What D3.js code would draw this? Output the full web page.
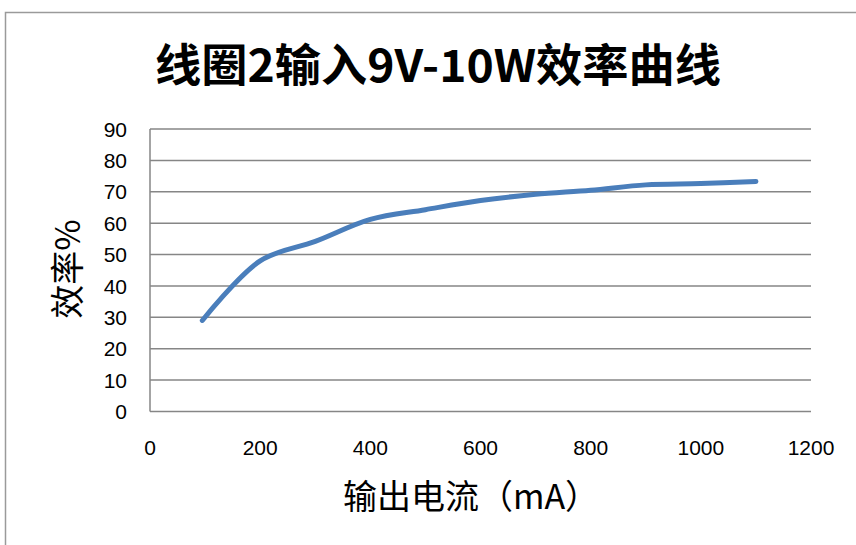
<!DOCTYPE html>
<html><head><meta charset="utf-8">
<script src="https://cdn.jsdelivr.net/npm/d3@7/dist/d3.min.js"></script>
<style>body{margin:0;background:#fff}svg{display:block}</style>
</head><body>
<script>
const currentMA = [95, 200, 300, 400, 500, 600, 700, 800, 900, 1000, 1100];
const efficiency = [29, 48, 54.2, 61.2, 64.3, 67.2, 69.2, 70.5, 72.2, 72.6, 73.3];
const xTicks = [0, 200, 400, 600, 800, 1000, 1200];
const yTicks = [0, 10, 20, 30, 40, 50, 60, 70, 80, 90];
const title = "线圈2输入9V-10W效率曲线";
const xTitle = "输出电流（mA）";
const yTitle = "效率%";

const W = 856, H = 545;
const svg = d3.select("body").append("svg").attr("width", W).attr("height", H);
svg.append("rect").attr("width", W).attr("height", H).attr("fill", "#fff");
// frame
svg.append("path").attr("d", `M5.5,${H}V12.5H${W}`).attr("fill", "none").attr("stroke", "#9a9a9a").attr("stroke-width", 1.5);

const x = d3.scaleLinear().domain([0, 1200]).range([150, 811]);
const y = d3.scaleLinear().domain([0, 90]).range([411.5, 129]);
const font = "'Liberation Sans','Noto Sans CJK SC',sans-serif";

// grid
svg.append("g").selectAll("line").data(yTicks).join("line")
  .attr("x1", x(0)).attr("x2", x(1200)).attr("y1", d => y(d)).attr("y2", d => y(d))
  .attr("stroke", "#868686").attr("stroke-width", 1.5);
svg.append("line").attr("x1", x(0)).attr("x2", x(0)).attr("y1", y(0)).attr("y2", y(90))
  .attr("stroke", "#868686").attr("stroke-width", 1.5);

// y tick labels
svg.append("g").selectAll("text").data(yTicks).join("text")
  .attr("x", 127).attr("y", d => y(d)).attr("dy", "0.36em").attr("text-anchor", "end")
  .attr("font-family", font).attr("font-size", 21).attr("fill", "#000").text(d => d);
// x tick labels
svg.append("g").selectAll("text").data(xTicks).join("text")
  .attr("x", d => x(d)).attr("y", 455).attr("text-anchor", "middle")
  .attr("font-family", font).attr("font-size", 21).attr("fill", "#000").text(d => d);

// line
const pts = currentMA.map((c, i) => [c, efficiency[i]]);
svg.append("path").datum(pts)
  .attr("d", d3.line().x(d => x(d[0])).y(d => y(d[1])).curve(d3.curveCatmullRom.alpha(0.5)))
  .attr("fill", "none").attr("stroke", "#4a7ebb").attr("stroke-width", 5).attr("stroke-linecap", "round");

// titles
svg.append("text").attr("x", 438).attr("y", 82).attr("text-anchor", "middle")
  .attr("font-family", "'Noto Sans CJK SC',sans-serif").attr("font-weight", "bold").attr("font-size", 45)
  .attr("textLength", 566).attr("lengthAdjust", "spacingAndGlyphs").text(title);
svg.append("text").attr("x", 471).attr("y", 509).attr("text-anchor", "middle")
  .attr("font-family", "'Noto Sans CJK SC',sans-serif").attr("font-size", 34).text(xTitle);
svg.append("text").attr("transform", "translate(80,269) rotate(-90)").attr("text-anchor", "middle")
  .attr("font-family", "'Noto Sans CJK SC',sans-serif").attr("font-size", 34).text(yTitle);
</script>
</body></html>
